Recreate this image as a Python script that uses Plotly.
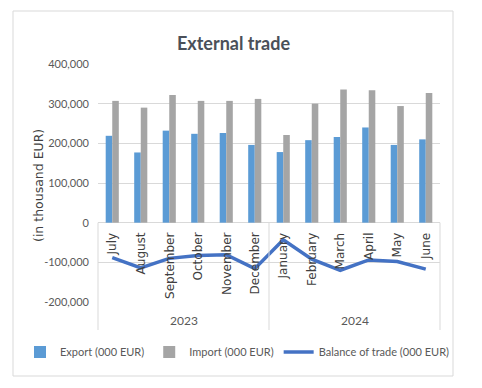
import plotly.graph_objects as go

months = ["July", "August", "September", "October", "November", "December",
          "January", "February", "March", "April", "May", "June"]
years = ["2023", "2024"]
export_vals = [219000, 177000, 232000, 224000, 226000, 196000,
               178000, 208000, 216000, 240000, 196000, 210000]
import_vals = [307000, 290000, 322000, 307000, 307000, 312000,
               221000, 300000, 336000, 334000, 294000, 327000]
balance_vals = [-88000, -114000, -90000, -83000, -81000, -116000,
                -43000, -92000, -120000, -94000, -98000, -117000]
y_ticks = [-200000, -100000, 0, 100000, 200000, 300000, 400000]

W, H = 482, 388
L, R, T, B = 98, 42, 64, 86
pw, ph = W - L - R, H - T - B


def px_x(px):
    return (px - L) / pw


def px_y(py):
    return (H - B - py) / ph


grid = "#D9D9D9"
txt = "#595959"

fig = go.Figure()
fig.add_trace(go.Bar(x=months, y=export_vals, name="Export (000 EUR)",
                     marker=dict(color="#5B9BD5", line=dict(width=0))))
fig.add_trace(go.Bar(x=months, y=import_vals, name="Import (000 EUR)",
                     marker=dict(color="#A5A5A5", line=dict(width=0))))
fig.add_trace(go.Scatter(x=months, y=balance_vals, name="Balance of trade (000 EUR)",
                         mode="lines", line=dict(color="#4472C4", width=3.5)))

annotations = []
for m in months:
    annotations.append(dict(x=m, y=0, xref="x", yref="y", text=m, showarrow=False,
                            textangle=-90, xanchor="center", yanchor="top", yshift=-8,
                            font=dict(family="DejaVu Sans", size=12, color="#404040")))
year_centers = [2.5, 8.5]
for yr, xc in zip(years, year_centers):
    annotations.append(dict(x=xc, y=px_y(320), xref="x", yref="paper", text=yr,
                            showarrow=False, xanchor="center", yanchor="middle",
                            font=dict(family="Lato", size=12, color=txt)))
annotations.append(dict(x=px_x(233), y=px_y(43), xref="paper", yref="paper",
                        text="External trade", showarrow=False,
                        xanchor="center", yanchor="middle",
                        font=dict(family="Lato", size=18, color="#4A5059", weight="bold")))
annotations.append(dict(x=px_x(38), y=px_y(186), xref="paper", yref="paper",
                        text="(in thousand EUR)", showarrow=False, textangle=-90,
                        xanchor="center", yanchor="middle",
                        font=dict(family="DejaVu Sans", size=12.5, color="#404040")))

zero_p = 1 / 3
bottom_p = px_y(330)
shapes = [
    dict(type="rect", xref="paper", yref="paper", x0=px_x(13), x1=px_x(453),
         y0=px_y(376), y1=px_y(11), line=dict(color=grid, width=1), layer="below"),
    dict(type="line", xref="paper", yref="paper", x0=0, x1=0, y0=bottom_p, y1=zero_p,
         line=dict(color=grid, width=1)),
    dict(type="line", xref="paper", yref="paper", x0=1, x1=1, y0=bottom_p, y1=zero_p,
         line=dict(color=grid, width=1)),
    dict(type="line", xref="x", yref="paper", x0=5.5, x1=5.5, y0=bottom_p, y1=zero_p,
         line=dict(color=grid, width=1)),
]

fig.update_layout(
    width=W, height=H,
    margin=dict(l=L, r=R, t=T, b=B, autoexpand=False),
    paper_bgcolor="white", plot_bgcolor="white",
    barmode="group", bargap=0.54, bargroupgap=0,
    showlegend=True,
    legend=dict(orientation="h", x=px_x(20), y=px_y(352), xanchor="left",
                yanchor="middle", font=dict(family="Lato", size=11, color=txt),
                itemwidth=30, tracegroupgap=0, bgcolor="rgba(0,0,0,0)",
                borderwidth=0),
    annotations=annotations,
    shapes=shapes,
    xaxis=dict(type="category", categoryorder="array", categoryarray=months,
               showticklabels=False, showgrid=False, zeroline=False,
               showline=False, ticks="", range=[-0.5, 11.5]),
    yaxis=dict(range=[-200000, 400000], tickvals=y_ticks,
               ticktext=[f"{v:,}" for v in y_ticks],
               showgrid=True, gridcolor=grid, gridwidth=1,
               zeroline=True, zerolinecolor=grid, zerolinewidth=1,
               showline=False, ticks="", ticklabelstandoff=8,
               tickfont=dict(family="Lato", size=11, color=txt)),
)

fig.write_html("out.html", config={"displayModeBar": False},
               post_script="document.body.style.margin='0';")
